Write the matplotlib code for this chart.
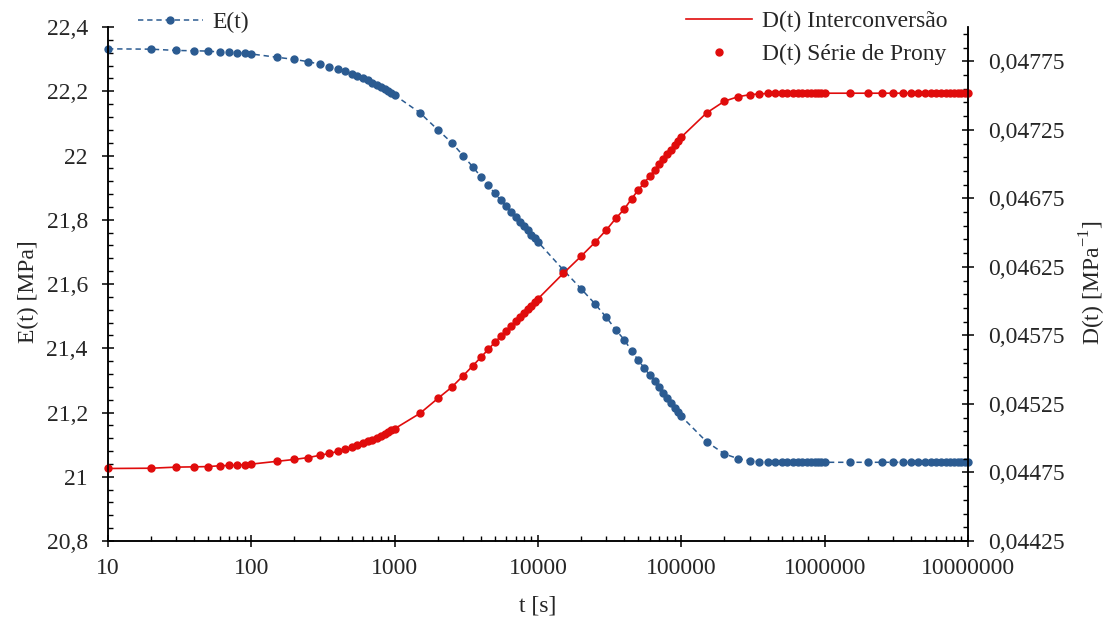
import numpy as np
import matplotlib
matplotlib.use('Agg')
import matplotlib.pyplot as plt
from matplotlib import rcParams
from matplotlib.lines import Line2D
from matplotlib.ticker import FixedLocator, FuncFormatter, LogLocator, NullFormatter

# tempo [s]
t_s = [10, 20, 30, 40, 50, 60, 70, 80, 90, 100,
       150, 200, 250, 300, 350, 400, 450, 500, 550, 600, 650, 700, 750, 800, 850, 900, 950, 1000,
       1500, 2000, 2500, 3000, 3500, 4000, 4500, 5000, 5500, 6000, 6500, 7000, 7500, 8000,
       8500, 9000, 9500, 10000,
       15000, 20000, 25000, 30000, 35000, 40000, 45000, 50000, 55000, 60000, 65000, 70000,
       75000, 80000, 85000, 90000, 95000, 100000,
       150000, 200000, 250000, 300000, 350000, 400000, 450000, 500000, 550000, 600000,
       650000, 700000, 750000, 800000, 850000, 900000, 950000, 1000000,
       1500000, 2000000, 2500000, 3000000, 3500000, 4000000, 4500000, 5000000, 5500000,
       6000000, 6500000, 7000000, 7500000, 8000000, 8500000, 9000000, 9500000, 10000000]

# modulo de relaxacao E(t) [MPa]
E_mpa = [22.332, 22.331, 22.327, 22.326, 22.325, 22.322, 22.321, 22.320, 22.318, 22.316,
         22.306, 22.299, 22.292, 22.284, 22.277, 22.270, 22.262, 22.255, 22.248, 22.241,
         22.234, 22.227, 22.220, 22.213, 22.207, 22.200, 22.194, 22.188,
         22.133, 22.080, 22.040, 22.000, 21.965, 21.934, 21.907, 21.882, 21.861, 21.842,
         21.825, 21.809, 21.794, 21.780, 21.767, 21.754, 21.743, 21.731,
         21.644, 21.585, 21.538, 21.496, 21.457, 21.426, 21.392, 21.363, 21.339, 21.317,
         21.297, 21.278, 21.261, 21.245, 21.229, 21.215, 21.201, 21.188,
         21.109, 21.071, 21.056, 21.050, 21.047, 21.046] + [21.045] * 30

# fluencia D(t) [1/MPa]
D_mpa = [0.044779, 0.044781, 0.044789, 0.044791, 0.044793, 0.044799, 0.044801, 0.044803,
         0.044807, 0.044811,
         0.044831, 0.044845, 0.044859, 0.044875, 0.044889, 0.044903, 0.044919, 0.044934,
         0.044948, 0.044962, 0.044976, 0.044990, 0.045004, 0.045019, 0.045031, 0.045045,
         0.045057, 0.045069,
         0.045181, 0.045290, 0.045372, 0.045455, 0.045527, 0.045591, 0.045648, 0.045700,
         0.045743, 0.045783, 0.045819, 0.045853, 0.045884, 0.045914, 0.045941, 0.045968,
         0.045992, 0.046017,
         0.046202, 0.046328, 0.046429, 0.046520, 0.046605, 0.046672, 0.046747, 0.046810,
         0.046862, 0.046911, 0.046955, 0.046997, 0.047034, 0.047070, 0.047105, 0.047136,
         0.047168, 0.047197,
         0.047373, 0.047459, 0.047492, 0.047506, 0.047512, 0.047515] + [0.047517] * 30

blue = '#2b5b91'
red = '#e00c0c'
txt = '#262626'

rcParams['font.family'] = 'Liberation Serif'
rcParams['mathtext.fontset'] = 'custom'
rcParams['mathtext.rm'] = 'Liberation Serif'
rcParams['font.size'] = 17
rcParams['text.color'] = txt
rcParams['xtick.color'] = 'black'
rcParams['ytick.color'] = 'black'
rcParams['xtick.labelcolor'] = txt
rcParams['ytick.labelcolor'] = txt

W, H = 1110, 623
fig = plt.figure(figsize=(W / 100, H / 100), dpi=100)
ax = fig.add_axes([108 / W, 1 - 541 / H, 860 / W, 514 / H])
ax2 = ax.twinx()

ax.plot(t_s, E_mpa, color=blue, ls=(0, (3.5, 2.5)), lw=1.1, marker='o', ms=5,
        mfc=blue, mec=blue, clip_on=False)
ax2.plot(t_s, D_mpa, color=red, lw=1.2, clip_on=False)
ax2.plot(t_s, D_mpa, ls='none', marker='o', ms=5, color=red, clip_on=False)

#axes
ax.set_xscale('log')
ax.set_xlim(10, 1e7)
ax.set_ylim(20.8, 22.4)
ax2.set_ylim(0.04425, 0.048)

ax.xaxis.set_major_locator(FixedLocator([10, 100, 1000, 10000, 100000, 1000000, 10000000]))
ax.xaxis.set_minor_locator(LogLocator(base=10, subs=range(2, 10), numticks=20))
ax.xaxis.set_minor_formatter(NullFormatter())
ax.xaxis.set_major_formatter(FuncFormatter(lambda v, p: '%d' % int(round(v))))

ax.yaxis.set_major_locator(FixedLocator(np.round(np.arange(20.8, 22.41, 0.2), 2)))
ax.yaxis.set_minor_locator(FixedLocator(np.round(np.arange(20.8, 22.41, 0.04), 2)))
ax.yaxis.set_major_formatter(FuncFormatter(
    lambda v, p: ('%.1f' % v).rstrip('0').rstrip('.').replace('.', ',')))

ax2.yaxis.set_major_locator(FixedLocator(np.round(np.arange(0.04425, 0.04780, 0.0005), 5)))
ax2.yaxis.set_minor_locator(FixedLocator(np.round(np.arange(0.04425, 0.04800, 0.0001), 5)))
ax2.yaxis.set_major_formatter(FuncFormatter(lambda v, p: ('%.5f' % v).replace('.', ',')))

for a in (ax, ax2):
    a.spines['top'].set_visible(False)
    for s in ('left', 'right', 'bottom'):
        a.spines[s].set_linewidth(1.1)
    a.tick_params(which='major', direction='inout', length=9, width=1.1, labelsize=17)
    a.tick_params(which='minor', direction='in', length=3.5, width=1.0)
ax.tick_params(axis='y', which='major', pad=10)
ax.tick_params(axis='x', which='major', pad=8)
ax2.tick_params(axis='y', which='major', pad=10)

#labels
fig.text(538 / W, 1 - 606 / H, 't [s]', ha='center', va='center', fontsize=17)
fig.text(28 / W, 1 - 292 / H, 'E(t) [MPa]', ha='center', va='center', rotation=90, fontsize=17)
fig.text(1093 / W, 1 - 283 / H, r'D(t) [MPa$^{\mathregular{-1}}$]', ha='center', va='center',
         rotation=90, fontsize=17)

#legends
h_E = Line2D([], [], color=blue, ls=(0, (3.5, 2.5)), lw=1.1, marker='o', ms=5)
h_Di = Line2D([], [], color=red, lw=1.2)
h_Dp = Line2D([], [], color=red, ls='none', marker='o', ms=5)

leg1 = ax2.legend([h_E], ['E(t)'], loc='center left', bbox_to_anchor=(138 / W, 1 - 22 / H),
                  bbox_transform=fig.transFigure, frameon=False, borderpad=0, borderaxespad=0,
                  handlelength=2.75, handletextpad=0.42, numpoints=1, fontsize=17)
ax2.add_artist(leg1)
ax2.legend([h_Di, h_Dp], ['D(t) Interconversão', 'D(t) Série de Prony'], loc='center left',
           bbox_to_anchor=(686 / W, 1 - 38 / H), bbox_transform=fig.transFigure,
           frameon=False, borderpad=0, borderaxespad=0, handlelength=2.8,
           handletextpad=0.42, labelspacing=0.5, numpoints=1, fontsize=17)

fig.savefig('out.png', dpi=100)
